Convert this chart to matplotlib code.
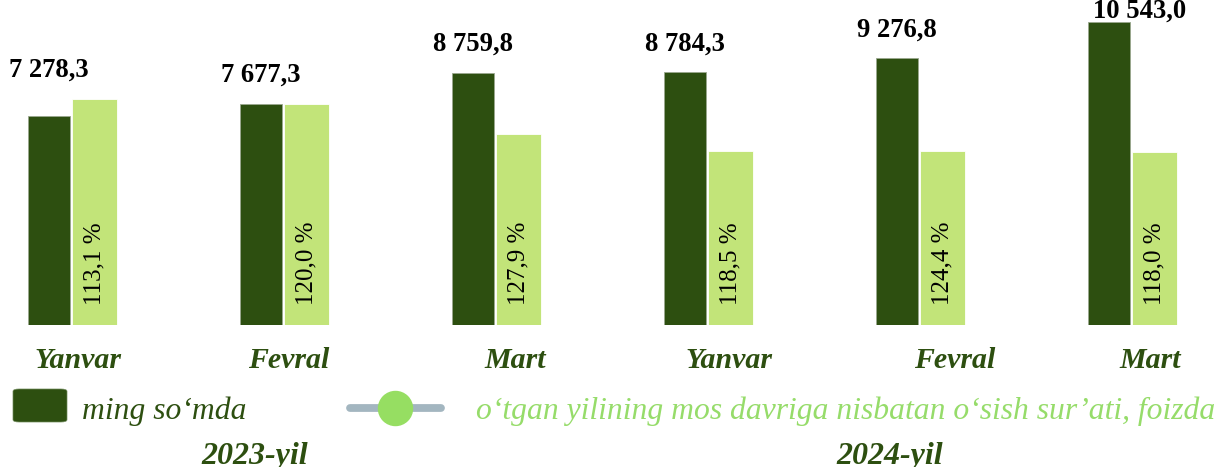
import matplotlib.pyplot as plt
from matplotlib.patches import FancyBboxPatch
from matplotlib.lines import Line2D

# data
months = ['Yanvar', 'Fevral', 'Mart', 'Yanvar', 'Fevral', 'Mart']
years = ['2023-yil', '2024-yil']
values = [7278.3, 7677.3, 8759.8, 8784.3, 9276.8, 10543.0]   # ming so'mda
growth = [113.1, 120.0, 127.9, 118.5, 124.4, 118.0]          # foizda
# heights of the light bars as drawn in the picture (same scale as values)
light_bar = [7860, 7690, 6630, 6040, 6040, 6010]

value_labels = ['7 278,3', '7 677,3', '8 759,8', '8 784,3', '9 276,8', '10 543,0']
growth_labels = [f'{g:.1f} %'.replace('.', ',') for g in growth]

dark = '#2d4f10'
light = '#c2e479'
light_text = '#96dc6a'

plt.rcParams['font.family'] = ['Liberation Serif', 'DejaVu Serif']

W, H = 1227, 467
fig = plt.figure(figsize=(W / 100, H / 100), dpi=100)
ax = fig.add_axes([0, 142 / H, 1, 325 / H])

ytop = 11300
x = list(range(len(values)))
ax.bar([i - 0.108 for i in x], values, width=0.196, color=dark,
       edgecolor='#9aa88f', linewidth=0.6)
ax.bar([i + 0.108 for i in x], light_bar, width=0.212, color=light,
       edgecolor='white', linewidth=0.6)

ax.set_xlim(-72 / 212, (W - 72) / 212)
ax.set_ylim(0, ytop)
ax.axis('off')

# value labels above the dark bars (kept inside the plot area)
px = ytop / 325
label_dx = [0, 0, 0, 0, 0, 31]
for i in x:
    y = max(values[i], light_bar[i]) + 16 * px
    y = min(y, ytop - 24 * px)
    ax.annotate(value_labels[i], (i - 0.108, y), xytext=(label_dx[i], 0),
                textcoords='offset pixels', ha='center', va='bottom',
                fontsize=19.2, fontweight='bold', color='black')
    ax.annotate(growth_labels[i], (i + 0.108, 0), xytext=(0, 20),
                textcoords='offset pixels', ha='center', va='bottom',
                rotation=90, fontsize=18, color='black')

# month labels
month_dx = [6, 5, 19, 21, 35, 18]
for i, m in enumerate(months):
    cx = 72 + 212 * i + month_dx[i]
    fig.text(cx / W, 1 - 361 / H, m, ha='center', va='center',
             fontsize=21.5, fontweight='bold', fontstyle='italic', color=dark)

# legend
fig.patches.append(FancyBboxPatch((13 / W, 1 - 422 / H), 54 / W, 33 / H,
                                  boxstyle='round,pad=0,rounding_size=0.005',
                                  transform=fig.transFigure, facecolor=dark,
                                  edgecolor='#6f8a5a', linewidth=0.5))
fig.text(82 / W, 1 - 419 / H, 'ming so\u2018mda', ha='left', va='baseline',
         fontsize=22.8, fontstyle='italic', color=dark)
fig.lines.append(Line2D([350 / W, 441 / W], [1 - 408 / H] * 2,
                        transform=fig.transFigure, color='#a3b6c0', lw=5.6,
                        solid_capstyle='round'))
fig.lines.append(Line2D([395 / W], [1 - 408 / H], transform=fig.transFigure,
                        marker='o', markersize=24.5, color='#96de62', lw=0))
fig.text(476 / W, 1 - 419 / H,
         'o\u2018tgan yilining mos davriga nisbatan o\u2018sish sur\u2019ati, foizda',
         ha='left', va='baseline', fontsize=22.8, fontstyle='italic', color=light_text)

# year labels
fig.text(255 / W, 1 - 464 / H, years[0], ha='center', va='baseline',
         fontsize=23, fontweight='bold', fontstyle='italic', color=dark)
fig.text(890 / W, 1 - 464 / H, years[1], ha='center', va='baseline',
         fontsize=23, fontweight='bold', fontstyle='italic', color=dark)

fig.savefig('out.png', dpi=100)
